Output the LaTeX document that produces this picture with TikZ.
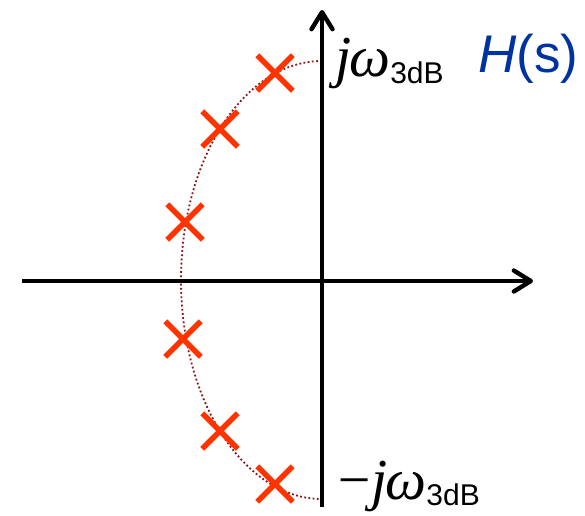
\documentclass[tikz,border=0pt]{standalone}
\usepackage{fontspec}
\setmainfont{Liberation Sans}
\newfontfamily\serifit{Liberation Serif}
\usetikzlibrary{arrows.meta,shapes.misc}
\definecolor{polered}{RGB}{255,51,0}
\definecolor{circred}{RGB}{140,20,25}
\definecolor{hblue}{RGB}{0,51,160}
\tikzset{
  axis/.style={line width=3.8pt, -{Straight Barb[length=17pt,width=21pt,line width=4.4pt,line cap=round,line join=round]}},
  pole/.style={cross out, draw=polered, line width=5.5pt, minimum size=30pt, inner sep=0pt},
  guide/.style={draw=circred, line width=1.8pt, dash pattern=on 1.8pt off 2.4pt},
  lbl/.style={inner sep=0pt, anchor=base west}
}
\begin{document}
\begin{tikzpicture}[x=1pt,y=-1pt]
\useasboundingbox (0,0) rectangle (585,515);
\coordinate (o) at (322,281);
\coordinate (xl) at (22,281);
\coordinate (xr) at (533,281);
\coordinate (yb) at (322,507);
\coordinate (yt) at (322,10);
\draw[guide] (322,61) arc[start angle=90, end angle=270, x radius=141pt, y radius=219pt];
\draw[axis] (xl) -- (xr);
\draw[axis] (yb) -- (yt);
\node[pole] (p1) at (275,73) {};
\node[pole] (p2) at (220,129) {};
\node[pole] (p3) at (185,222) {};
\node[pole] (p4) at (183,339) {};
\node[pole] (p5) at (220,431) {};
\node[pole] (p6) at (275,484) {};
\node[lbl] (top) at (335,76) {\fontsize{58}{58}\selectfont\serifit\itshape j\kern-2ptω\kern0pt\raisebox{-7pt}{\fontsize{30}{30}\selectfont\normalfont 3dB}};
\node[lbl] (bot) at (334,499) {\fontsize{58}{58}\selectfont\serifit\itshape −\kern-2ptj\kern-2ptω\kern0pt\raisebox{-6pt}{\fontsize{30}{30}\selectfont\normalfont 3dB}};
\node[lbl, text=hblue] (H) at (478,72) {\fontsize{53}{53}\selectfont\itshape H\upshape(s)};
\end{tikzpicture}
\end{document}
